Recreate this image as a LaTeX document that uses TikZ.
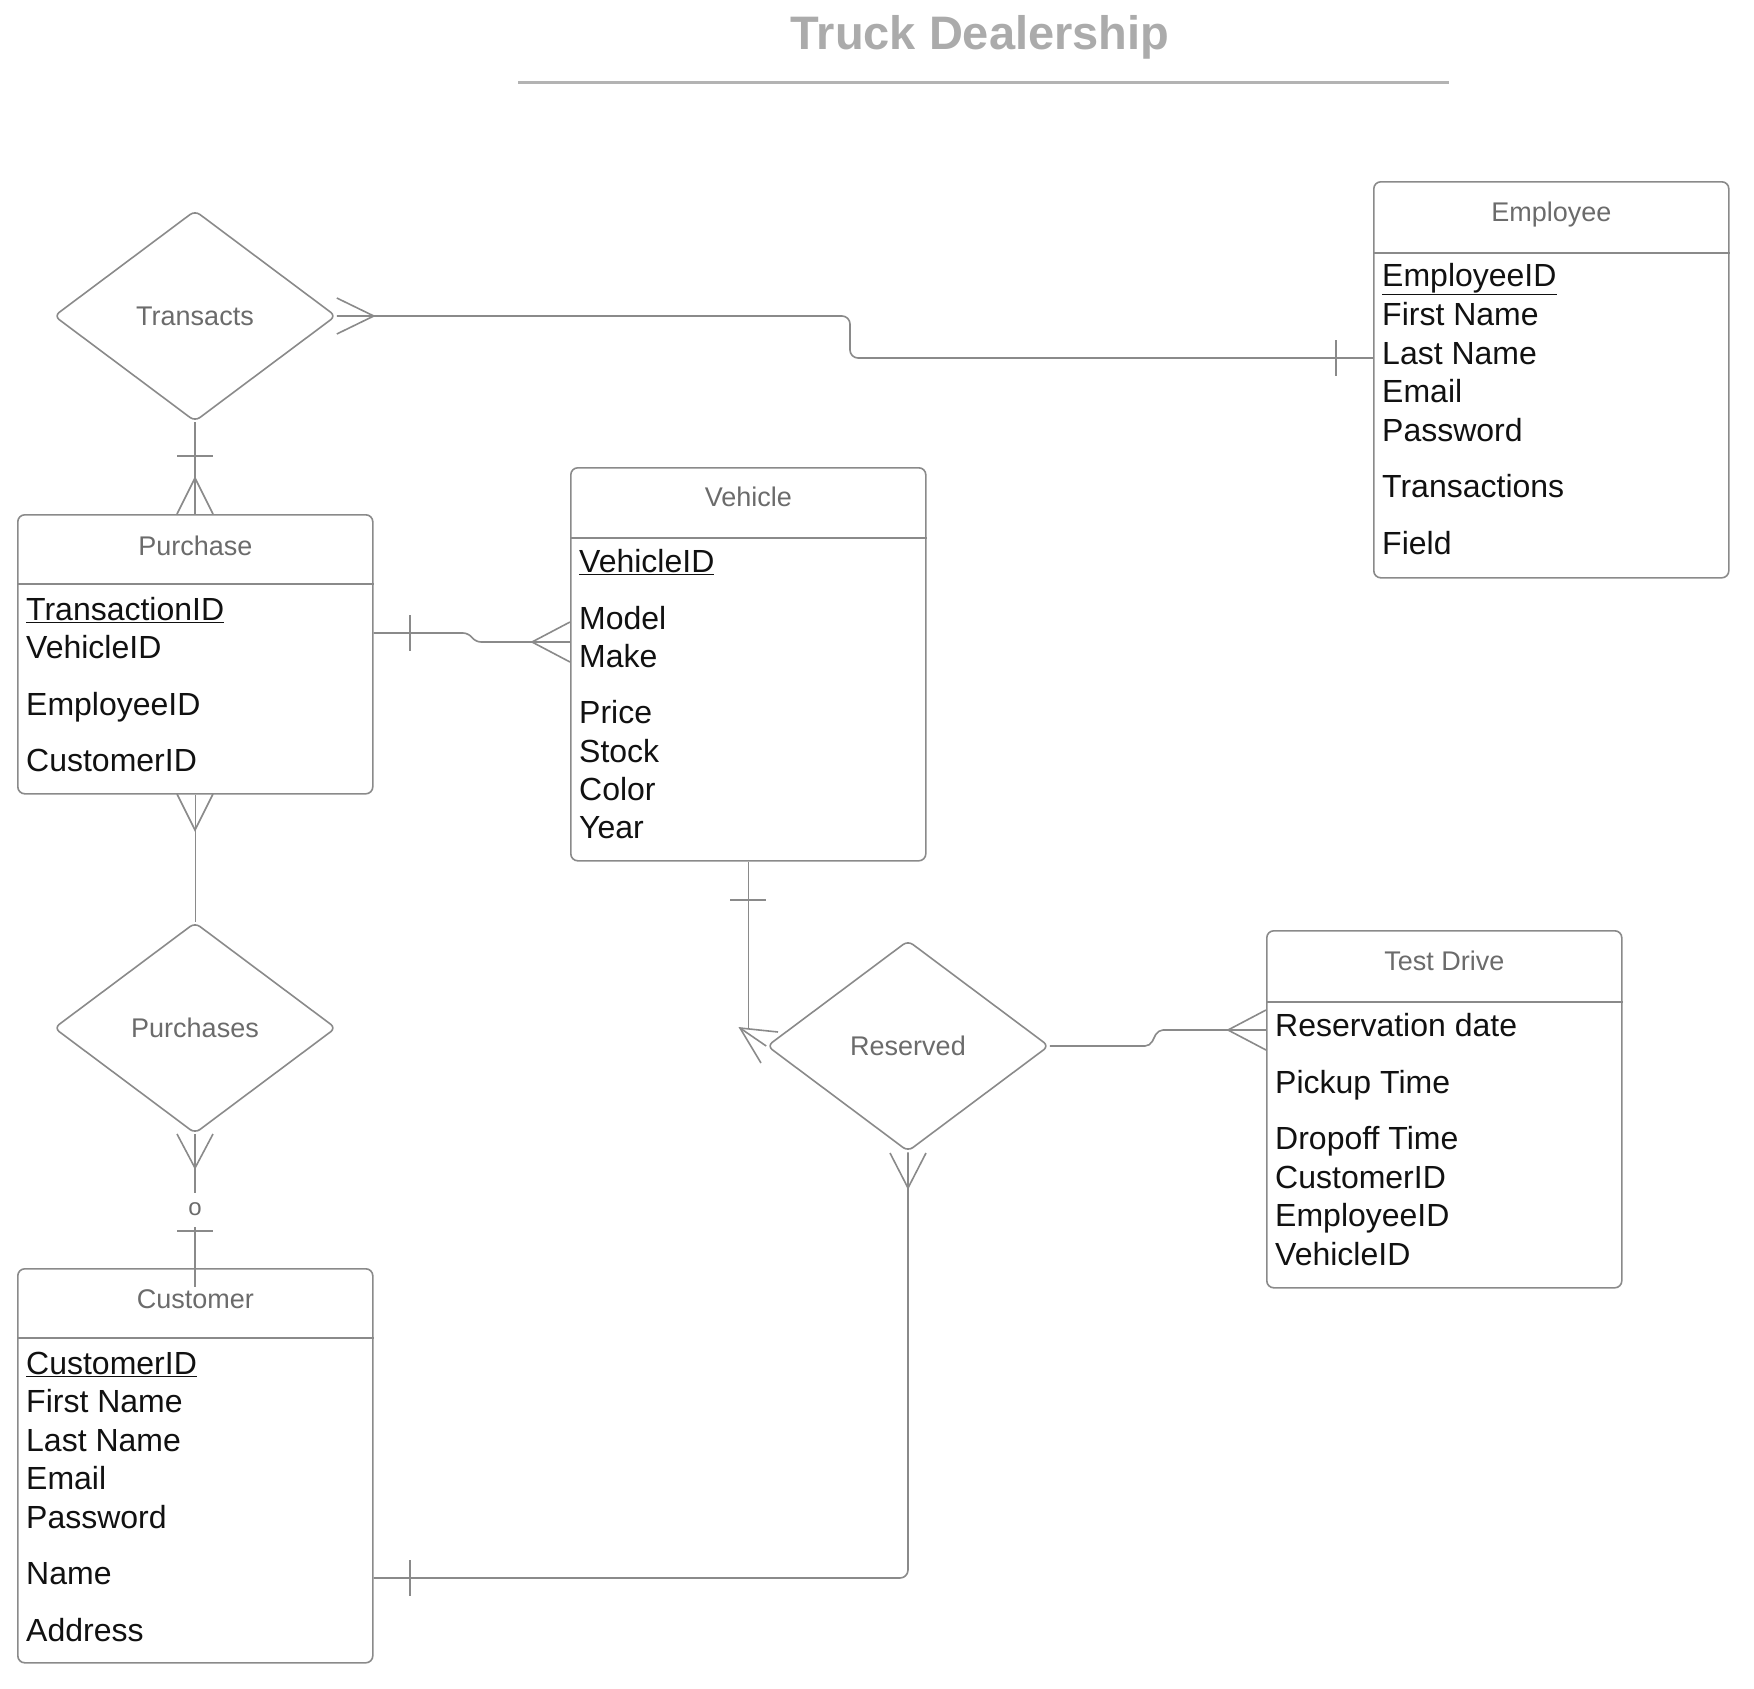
\documentclass[tikz,border=0pt]{standalone}
\usepackage{fontspec}
\setmainfont{Liberation Sans}
\usetikzlibrary{shapes.geometric}
\definecolor{ln}{HTML}{8A8A8A}
\definecolor{hdrc}{HTML}{6B6B6B}
\definecolor{titc}{HTML}{ABABAB}
\definecolor{attc}{HTML}{111111}
\begin{document}
\begin{tikzpicture}[x=1pt,y=-1pt,
  entity/.style={draw=ln, line width=1.6pt, rounded corners=7pt, minimum width=355pt, inner sep=0pt, anchor=north west},
  attr/.style={anchor=west, inner sep=0pt, text height=23pt, text depth=0pt, font=\fontsize{32}{38}\selectfont, text=attc},
  hdr/.style={inner sep=0pt, text height=19.3pt, text depth=0pt, font=\fontsize{27}{32}\selectfont, text=hdrc},
  rel/.style={draw=ln, line width=1.6pt, shape=diamond, minimum width=282pt, minimum height=211pt, aspect=1.336, inner sep=0pt, rounded corners=6pt, text height=19.3pt, text depth=0pt, font=\fontsize{27}{32}\selectfont, text=hdrc},
  conn/.style={draw=ln, line width=1.6pt},
  sepline/.style={draw=ln, line width=1.6pt},
  card/.style={inner sep=0pt, font=\fontsize{24}{28}\selectfont, text=hdrc}
]
\useasboundingbox (0,0) rectangle (1754,1689);

% title
\node[inner sep=0pt, font=\bfseries\fontsize{47}{56}\selectfont, text=titc] (title) at (980,37) {Truck Dealership};
\draw[draw=titc!90, line width=3pt] (518,82) -- (1449,82);

% Employee
\node[entity, minimum height=396pt] (emp) at (1373,181) {};
\draw[sepline] (emp.west |- 0,253) -- (emp.east |- 0,253);
\node[hdr] (empH) at (emp.north |- 0,212) {Employee};
\node[attr] (e1) at (1382,275) {\underline{EmployeeID}};
\node[attr] (e2) at (1382,314) {First Name};
\node[attr] (e3) at (1382,353) {Last Name};
\node[attr] (e4) at (1382,391) {Email};
\node[attr] (e5) at (1382,430) {Password};
\node[attr] (e6) at (1382,486) {Transactions};
\node[attr] (e7) at (1382,543) {Field};

% Purchase
\node[entity, minimum height=279pt] (purch) at (17,514) {};
\draw[sepline] (purch.west |- 0,584) -- (purch.east |- 0,584);
\node[hdr] (purchH) at (purch.north |- 0,546) {Purchase};
\node[attr] (p1) at (26,609) {\underline{TransactionID}};
\node[attr] (p2) at (26,647) {VehicleID};
\node[attr] (p3) at (26,704) {EmployeeID};
\node[attr] (p4) at (26,760) {CustomerID};

% Vehicle
\node[entity, minimum height=393pt] (veh) at (570,467) {};
\draw[sepline] (veh.west |- 0,538) -- (veh.east |- 0,538);
\node[hdr] (vehH) at (veh.north |- 0,497) {Vehicle};
\node[attr] (v1) at (579,561) {\underline{VehicleID}};
\node[attr] (v2) at (579,618) {Model};
\node[attr] (v3) at (579,656) {Make};
\node[attr] (v4) at (579,712) {Price};
\node[attr] (v5) at (579,751) {Stock};
\node[attr] (v6) at (579,789) {Color};
\node[attr] (v7) at (579,827) {Year};

% Test Drive
\node[entity, minimum height=357pt] (td) at (1266,930) {};
\draw[sepline] (td.west |- 0,1002) -- (td.east |- 0,1002);
\node[hdr] (tdH) at (td.north |- 0,961) {Test Drive};
\node[attr] (t1) at (1275,1025) {Reservation date};
\node[attr] (t2) at (1275,1082) {Pickup Time};
\node[attr] (t3) at (1275,1138) {Dropoff Time};
\node[attr] (t4) at (1275,1177) {CustomerID};
\node[attr] (t5) at (1275,1215) {EmployeeID};
\node[attr] (t6) at (1275,1254) {VehicleID};

% Customer
\node[entity, minimum height=394pt] (cust) at (17,1268) {};
\draw[sepline] (cust.west |- 0,1338) -- (cust.east |- 0,1338);
\node[hdr] (custH) at (cust.north |- 0,1299) {Customer};
\node[attr] (c1) at (26,1363) {\underline{CustomerID}};
\node[attr] (c2) at (26,1401) {First Name};
\node[attr] (c3) at (26,1440) {Last Name};
\node[attr] (c4) at (26,1478) {Email};
\node[attr] (c5) at (26,1517) {Password};
\node[attr] (c6) at (26,1573) {Name};
\node[attr] (c7) at (26,1630) {Address};

% relationships
\node[rel] (trans) at (195,316) {Transacts};
\node[rel] (purchs) at (195,1028) {Purchases};
\node[rel] (res) at (908,1046) {Reserved};

% Transacts -- Employee
\draw[conn, rounded corners=8pt] (trans.east) -- (850,316) -- (850,358) -- (emp.west |- 0,358);
\draw[conn] ([yshift=18pt]trans.east) -- ([xshift=37pt]trans.east) -- ([yshift=-18pt]trans.east);
\draw[conn] (1336,340) -- (1336,376);

% Transacts -- Purchase
\draw[conn] (trans.south) -- (trans.south |- purch.north);
\draw[conn] (177,456) -- (213,456);
\draw[conn] (177,514) -- (195,478) -- (213,514);

% Purchase -- Vehicle
\draw[conn, rounded corners=5pt] (purch.east |- 0,633) -- (468,633) -- (476,642) -- (veh.west |- 0,642);
\draw[conn] (410,615) -- (410,651);
\draw[conn] (570,622) -- (532,642) -- (570,662);

% Purchase -- Purchases
\draw[conn] (purch.south) -- (purch.south |- purchs.north);
\draw[conn] (177,794) -- (195,830) -- (213,794);

% Purchases -- Customer
\node[card] (card) at (195,1209) {o};
\coordinate (cin) at (195,1287);
\draw[conn] (purchs.south) -- (purchs.south |- 0,1193);
\draw[conn] (177,1134) -- (195,1168) -- (213,1134);
\draw[conn] (cin |- 0,1227) -- (cin);
\draw[conn] (177,1231) -- (213,1231);

% Customer -- Reserved
\draw[conn, rounded corners=8pt] (cust.east |- 0,1578) -| (res.south);
\draw[conn] (410,1560) -- (410,1596);
\draw[conn] (890,1153) -- (908,1188) -- (926,1153);

% Vehicle -- Reserved
\coordinate (vr) at (740,1028);
\draw[conn] (veh.south) -- (veh.south |- 0,1029);
\draw[conn] (730,900) -- (766,900);
\draw[conn] (778,1032) -- (vr) -- (761,1063);
\draw[conn] (vr) -- (res.west);

% Reserved -- Test Drive
\draw[conn, rounded corners=5pt] (res.east) -- (1150,1046) -- (1158,1030) -- (td.west |- 0,1030);
\draw[conn] (1266,1010) -- (1228,1030) -- (1266,1050);
\end{tikzpicture}
\end{document}
